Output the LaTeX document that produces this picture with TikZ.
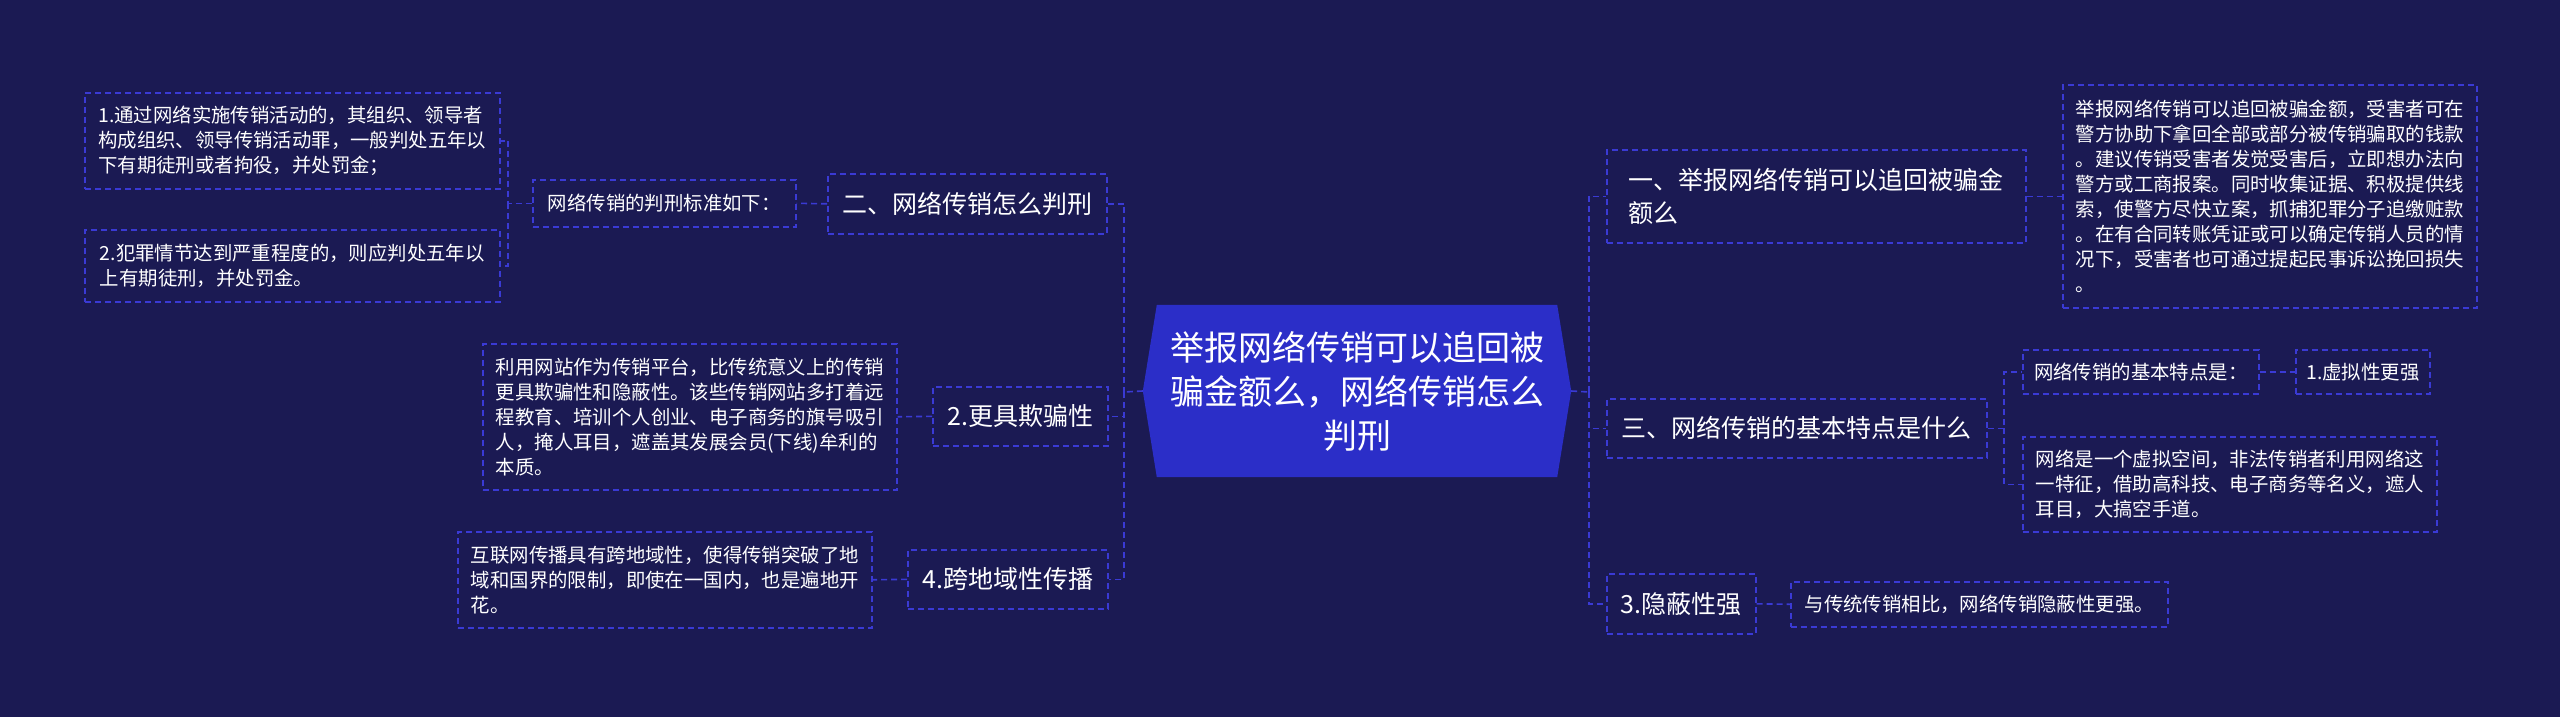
\documentclass[tikz,border=0pt]{standalone}
\usepackage{fontspec}
\setmainfont{Noto Sans CJK SC}
\usetikzlibrary{calc}
\definecolor{bgc}{RGB}{27,26,83}
\definecolor{linec}{RGB}{58,58,212}
\definecolor{centerc}{RGB}{43,46,200}
\tikzset{
  conn/.style={draw=linec, line width=1.6pt, dash pattern=on 6pt off 4pt},
  boxbase/.style={draw=linec, line width=1.6pt, dash pattern=on 6pt off 4pt, text=white, anchor=north west, inner xsep=9pt, inner ysep=0pt, align=left},
  bigbox/.style={boxbase, font=\fontsize{25pt}{33pt}\selectfont},
  smallbox/.style={boxbase, font=\fontsize{19.4pt}{25pt}\selectfont},
}
\begin{document}
\begin{tikzpicture}[x=1pt,y=-1pt]
\fill[bgc] (0,0) rectangle (2560,717);
\useasboundingbox (0,0) rectangle (2560,717);

% center
\node[minimum width=428pt, minimum height=172pt, inner sep=0pt] (c) at (1357,391) {};
\fill[centerc] (c.west) -- ($(c.north west)+(14,0)$) -- ($(c.north east)+(-14,0)$) -- (c.east) -- ($(c.south east)+(-14,0)$) -- ($(c.south west)+(14,0)$) -- cycle;
\node[text=white, align=center, font=\fontsize{34pt}{44pt}\selectfont] (ct) at (c) {举报网络传销可以追回被\\骗金额么，网络传销怎么\\判刑};

% left side
\node[bigbox, minimum width=279pt, minimum height=60pt] (l1) at (827,173) {二、网络传销怎么判刑};
\node[smallbox, minimum width=263pt, minimum height=47pt] (l1s) at (532,179) {网络传销的判刑标准如下：};
\node[smallbox, minimum width=415pt, minimum height=96pt] (b1) at (84,92) {1.通过网络实施传销活动的，其组织、领导者\\构成组织、领导传销活动罪，一般判处五年以\\下有期徒刑或者拘役，并处罚金；};
\node[smallbox, minimum width=415pt, minimum height=72pt] (b2) at (84,229) {2.犯罪情节达到严重程度的，则应判处五年以\\上有期徒刑，并处罚金。};
\node[bigbox, minimum width=175pt, minimum height=59pt] (l2) at (932,386) {2.更具欺骗性};
\node[smallbox, minimum width=414pt, minimum height=146pt] (p2) at (482,343) {利用网站作为传销平台，比传统意义上的传销\\更具欺骗性和隐蔽性。该些传销网站多打着远\\程教育、培训个人创业、电子商务的旗号吸引\\人，掩人耳目，遮盖其发展会员(下线)牟利的\\本质。};
\node[bigbox, minimum width=200pt, minimum height=59pt] (l4) at (907,549) {4.跨地域性传播};
\node[smallbox, minimum width=414pt, minimum height=96pt] (p4) at (457,531) {互联网传播具有跨地域性，使得传销突破了地\\域和国界的限制，即使在一国内，也是遍地开\\花。};

% right side
\node[bigbox, minimum width=419pt, minimum height=93pt] (r1) at (1606,149) {一、举报网络传销可以追回被骗金\\额么};
\node[smallbox, minimum width=414pt, minimum height=223pt] (p1) at (2062,84) {举报网络传销可以追回被骗金额，受害者可在\\警方协助下拿回全部或部分被传销骗取的钱款\\。建议传销受害者发觉受害后，立即想办法向\\警方或工商报案。同时收集证据、积极提供线\\索，使警方尽快立案，抓捕犯罪分子追缴赃款\\。在有合同转账凭证或可以确定传销人员的情\\况下，受害者也可通过提起民事诉讼挽回损失\\。};
\node[bigbox, minimum width=380pt, minimum height=59pt] (r3) at (1606,398) {三、网络传销的基本特点是什么};
\node[smallbox, minimum width=236pt, minimum height=44pt] (r3a) at (2022,349) {网络传销的基本特点是：};
\node[smallbox, minimum width=134pt, minimum height=44pt] (r3b) at (2295,349) {1.虚拟性更强};
\node[smallbox, minimum width=414pt, minimum height=95pt] (p3) at (2022,436) {网络是一个虚拟空间，非法传销者利用网络这\\一特征，借助高科技、电子商务等名义，遮人\\耳目，大搞空手道。};
\node[bigbox, minimum width=149pt, minimum height=60pt] (r4) at (1606,573) {3.隐蔽性强};
\node[smallbox, minimum width=377pt, minimum height=45pt] (r4a) at (1790,581) {与传统传销相比，网络传销隐蔽性更强。};

% trunks
\coordinate (tl) at (1124,392);
\coordinate (tr) at (1589,392);
\coordinate (t1) at (508,0);
\coordinate (t3) at (2004,0);

\draw[conn] (c.west) -- (tl);
\draw[conn] (l1.east) -| (tl);
\draw[conn] (tl) |- (l2.east);
\draw[conn] (tl) |- (l4.east);
\draw[conn] (l1.west) -- (l1s.east);
\draw[conn] (l1s.west) -- (l1s.west -| t1) |- (b1.east);
\draw[conn] (l1s.west -| t1) |- (b2.east);
\draw[conn] (l2.west) -- (p2.east);
\draw[conn] (l4.west) -- (p4.east);

\draw[conn] (c.east) -- (tr);
\draw[conn] (tr) |- (r1.west);
\draw[conn] (tr) |- (r3.west);
\draw[conn] (tr) |- (r4.west);
\draw[conn] (r1.east) -- (p1.west);
\draw[conn] (r3.east) -- (r3.east -| t3) |- (r3a.west);
\draw[conn] (r3.east -| t3) |- (p3.west);
\draw[conn] (r3a.east) -- (r3b.west);
\draw[conn] (r4.east) -- (r4a.west);
\end{tikzpicture}
\end{document}
